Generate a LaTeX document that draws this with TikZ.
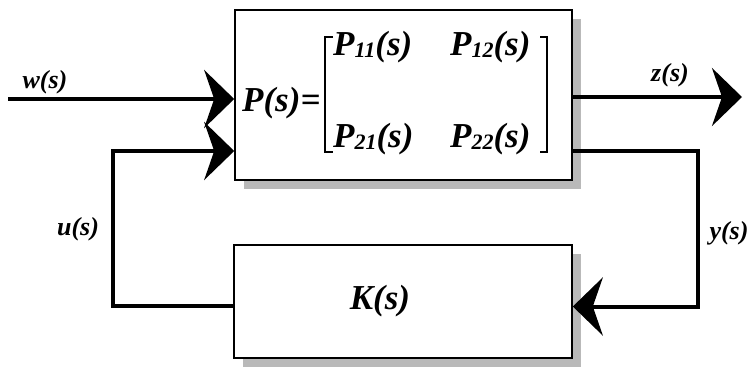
\documentclass[tikz,border=0pt]{standalone}
\usepackage{fontspec}
\setmainfont{Liberation Serif}
\usetikzlibrary{arrows.meta,shadows}
\newcommand\psub[1]{\raisebox{-2pt}{\fontsize{22}{22}\selectfont #1}}
\begin{document}
\begin{tikzpicture}[x=1pt,y=-1pt,line join=miter,
	blk/.style={draw,line width=1.6pt,fill=white,inner sep=0pt,
		drop shadow={shadow xshift=9pt,shadow yshift=-9pt,fill=gray!55,opacity=1}},
	sig/.style={line width=4pt,-{Stealth[length=30pt,width=58pt,inset=10pt]}},
	lbl/.style={font=\fontsize{26}{30}\selectfont\bfseries\itshape,inner sep=0pt},
	big/.style={font=\fontsize{35}{40}\selectfont\bfseries\itshape,inner sep=0pt}]
	\useasboundingbox (0,0) rectangle (750,370);
	% blocks
	\node[blk,minimum width=337pt,minimum height=170pt] (plant) at (403.5,95) {};
	\node[blk,minimum width=338pt,minimum height=113pt] (K) at (403,301.5) {};
	\node[big] (klbl) at (380,301) {K(s)};
	% P(s) matrix
	\node[big,anchor=base west] (peq) at (242,111) {P(s)=};
	\node[big,anchor=base west] (p11) at (333,55) {P\psub{11}(s)};
	\node[big,anchor=base west] (p12) at (450,55) {P\psub{12}(s)};
	\node[big,anchor=base west] (p21) at (333,147) {P\psub{21}(s)};
	\node[big,anchor=base west] (p22) at (450,147) {P\psub{22}(s)};
	\draw[line width=1.2pt] (333,37)--(325,37)--(325,152)--(333,152);
	\draw[line width=1.2pt] (540,37)--(547,37)--(547,152)--(540,152);
	% signals
	\coordinate (win) at (8,99);
	\coordinate (zout) at (742,97);
	\coordinate (uleft) at (113,151);
	\coordinate (yright) at (698,151);
	\draw[sig] (win) -- (win -| plant.west);
	\draw[sig] (zout -| plant.east) -- (zout);
	\draw[sig] ([yshift=-4pt]K.west) -| (uleft) -- (uleft -| plant.west);
	\draw[sig] (yright -| plant.east) -- (yright) |- ([yshift=-5pt]K.east);
	% labels
	\node[lbl] (wlbl) at (45,82) {w(s)};
	\node[lbl] (zlbl) at (670,75) {z(s)};
	\node[lbl] (ulbl) at (78,229) {u(s)};
	\node[lbl] (ylbl) at (729,233) {y(s)};
\end{tikzpicture}
\end{document}
